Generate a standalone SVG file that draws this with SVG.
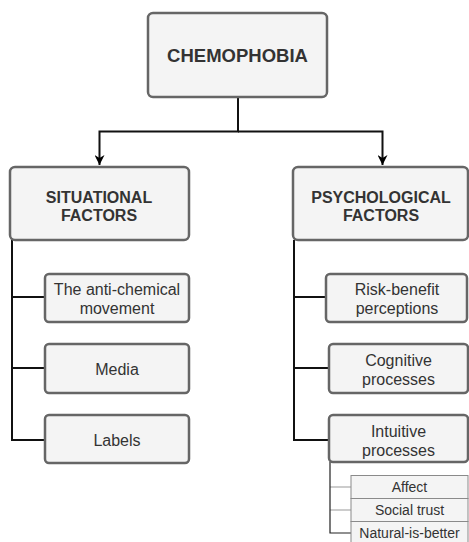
<svg xmlns="http://www.w3.org/2000/svg" width="469" height="542" viewBox="0 0 469 542">
<defs>
<style>
.box{fill:#f4f4f4;stroke:#666;stroke-width:2.5}
.sm{fill:#f4f4f4;stroke:#8a8a8a;stroke-width:1}
.t{font-family:"Liberation Sans",Arial,sans-serif;fill:#333;text-anchor:middle}
.b{font-weight:bold;font-size:16px}
.r{font-size:16px}
.s{font-size:14px}
.ln{fill:none;stroke:#111;stroke-width:2}
.lt{fill:none;stroke:#999;stroke-width:1}
.ld{fill:none;stroke:#222;stroke-width:1.2}
</style>
<marker id="arr" viewBox="0 0 10 10" refX="10" refY="5" markerWidth="10" markerHeight="10" markerUnits="userSpaceOnUse" orient="auto">
<path d="M0,0 L10,5 L0,10 L3,5 Z" fill="#000"/>
</marker>
</defs>
<g id="connectors">
<path class="ln" d="M238,97 V131.5 H99.5 V165" marker-end="url(#arr)"/>
<path class="ln" d="M238,131.5 H382.5 V165" marker-end="url(#arr)"/>
<path class="ln" d="M12,240 V440 H45 M12,297 H45 M12,368 H45"/>
<path class="ln" d="M294,240 V440 H329 M294,297 H326 M294,368 H329"/>
<path class="lt" d="M330,487 H351 M330,510 H351"/>
<path class="ld" d="M330,462 V533 H351"/>
</g>
<g id="chemophobia">
<rect class="box" x="148" y="13" width="179" height="84" rx="5"/>
<text class="t" x="237.5" y="62" font-weight="bold" font-size="18.5">CHEMOPHOBIA</text>
</g>
<g id="situational">
<rect class="box" x="10" y="167" width="179" height="73" rx="5"/>
<text class="t b" x="99" y="203">SITUATIONAL</text>
<text class="t b" x="99" y="221">FACTORS</text>
</g>
<g id="psychological">
<rect class="box" x="293" y="167" width="175" height="73" rx="5"/>
<text class="t b" x="381" y="203">PSYCHOLOGICAL</text>
<text class="t b" x="381" y="221">FACTORS</text>
</g>
<g id="anti-chemical">
<rect class="box" x="45" y="274" width="144" height="48" rx="4"/>
<text class="t r" x="117" y="295">The anti-chemical</text>
<text class="t r" x="117" y="314">movement</text>
</g>
<g id="media">
<rect class="box" x="45" y="344" width="144" height="49" rx="4"/>
<text class="t r" x="117" y="375">Media</text>
</g>
<g id="labels">
<rect class="box" x="45" y="415" width="144" height="48" rx="4"/>
<text class="t r" x="117" y="446">Labels</text>
</g>
<g id="risk-benefit">
<rect class="box" x="326" y="274" width="141" height="48" rx="4"/>
<text class="t r" x="397" y="295">Risk-benefit</text>
<text class="t r" x="397" y="314">perceptions</text>
</g>
<g id="cognitive">
<rect class="box" x="329" y="344" width="139" height="49" rx="4"/>
<text class="t r" x="398.5" y="366">Cognitive</text>
<text class="t r" x="398.5" y="385">processes</text>
</g>
<g id="intuitive">
<rect class="box" x="329" y="415" width="139" height="47" rx="4"/>
<text class="t r" x="398.5" y="437">Intuitive</text>
<text class="t r" x="398.5" y="456">processes</text>
</g>
<g id="affect">
<rect class="sm" x="351" y="475.5" width="117" height="23"/>
<text class="t s" x="409.5" y="492">Affect</text>
</g>
<g id="social-trust">
<rect class="sm" x="351" y="498.5" width="117" height="23"/>
<text class="t s" x="409.5" y="515">Social trust</text>
</g>
<g id="natural">
<rect class="sm" x="351" y="521.5" width="117" height="23"/>
<text class="t s" x="409.5" y="538">Natural-is-better</text>
</g>
</svg>
